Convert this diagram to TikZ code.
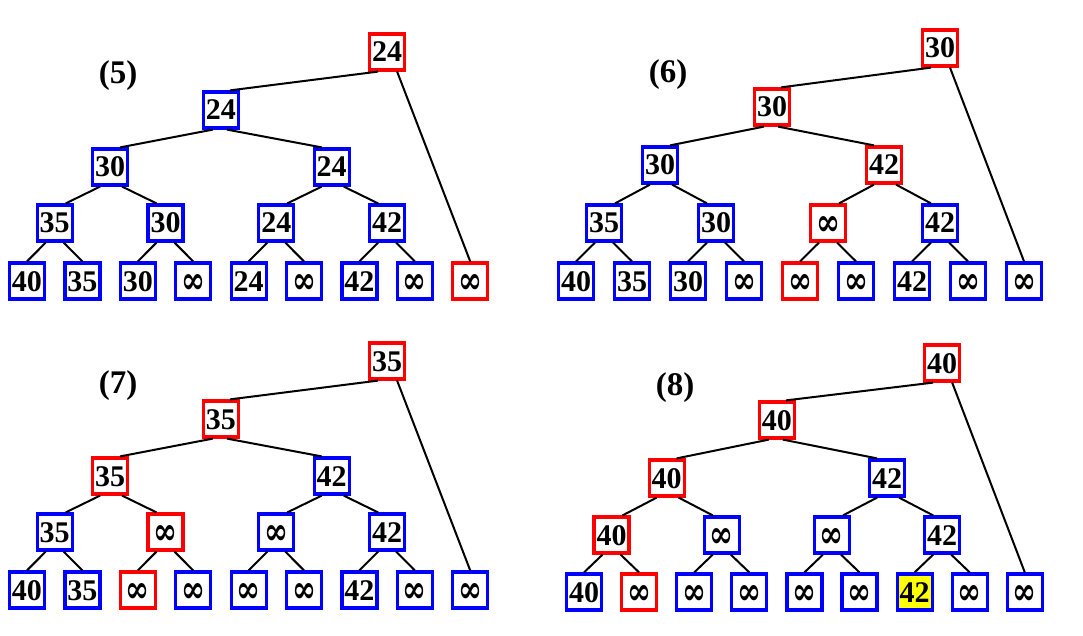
\documentclass[tikz,border=0pt]{standalone}
\usepackage{fontspec}
\setmainfont{Liberation Serif}
\newfontfamily\inffont{DejaVu Serif}
\definecolor{bl}{RGB}{0,0,255}
\definecolor{rd}{RGB}{255,0,0}
\definecolor{yl}{RGB}{255,255,0}
\newcommand\infsym{\raisebox{-2.2pt}{\resizebox{24pt}{19pt}{\inffont\bfseries ∞}}}
\tikzset{
  box/.style={draw, line width=3.2pt, minimum width=35pt, minimum height=36pt, inner sep=0pt,
    font=\fontsize{30}{30}\selectfont\bfseries, text height=20pt, text depth=0pt, fill=white},
  bb/.style={box, draw=bl},
  rb/.style={box, draw=rd},
  yb/.style={box, draw=bl, fill=yl},
  edge/.style={draw=black, line width=2pt},
  lbl/.style={font=\fontsize{33}{33}\selectfont\bfseries, inner sep=0pt}
}
\newcommand\treeedges[1]{%
  \draw[edge] ([xshift=-9pt]#1r.south) -- ([xshift=9pt]#1m.north);
  \draw[edge] ([xshift=10pt]#1r.south) -- (#1l8.north);
  \draw[edge] ([xshift=-8pt]#1m.south) -- ([xshift=10pt]#1p.north);
  \draw[edge] ([xshift=6pt]#1m.south) -- ([xshift=-10pt]#1q.north);
  \draw[edge] ([xshift=-10pt]#1p.south) -- ([xshift=11pt]#1a.north);
  \draw[edge] ([xshift=12pt]#1p.south) -- ([xshift=-9pt]#1b.north);
  \draw[edge] ([xshift=-10pt]#1q.south) -- ([xshift=11pt]#1c.north);
  \draw[edge] ([xshift=12pt]#1q.south) -- ([xshift=-9pt]#1d.north);
  \draw[edge] ([xshift=-9pt]#1a.south) -- (#1l0.north);
  \draw[edge] ([xshift=9pt]#1a.south) -- (#1l1.north);
  \draw[edge] ([xshift=-9pt]#1b.south) -- (#1l2.north);
  \draw[edge] ([xshift=9pt]#1b.south) -- (#1l3.north);
  \draw[edge] ([xshift=-9pt]#1c.south) -- (#1l4.north);
  \draw[edge] ([xshift=9pt]#1c.south) -- (#1l5.north);
  \draw[edge] ([xshift=-9pt]#1d.south) -- (#1l6.north);
  \draw[edge] ([xshift=9pt]#1d.south) -- (#1l7.north);
}
\begin{document}
\begin{tikzpicture}[x=1pt,y=-1pt]
\useasboundingbox (0,0) rectangle (1083,636);

% ---------- Panel (5) ----------
\def\s{55.4}\def\yR{52}\def\yA{110}\def\yB{167}\def\yC{223}\def\yL{281}
\node[lbl] (Alab) at (118,76) {(5)};
\begin{scope}[shift={(27,0)}]
\node[rb] (Ar) at ({6.5*\s},\yR) {24};
\node[bb] (Am) at ({3.5*\s},\yA) {24};
\node[bb] (Ap) at ({1.5*\s},\yB) {30};
\node[bb] (Aq) at ({5.5*\s},\yB) {24};
\node[bb] (Aa) at ({0.5*\s},\yC) {35};
\node[bb] (Ab) at ({2.5*\s},\yC) {30};
\node[bb] (Ac) at ({4.5*\s},\yC) {24};
\node[bb] (Ad) at ({6.5*\s},\yC) {42};
\node[bb] (Al0) at ({0*\s},\yL) {40};
\node[bb] (Al1) at ({1*\s},\yL) {35};
\node[bb] (Al2) at ({2*\s},\yL) {30};
\node[bb] (Al3) at ({3*\s},\yL) {\infsym};
\node[bb] (Al4) at ({4*\s},\yL) {24};
\node[bb] (Al5) at ({5*\s},\yL) {\infsym};
\node[bb] (Al6) at ({6*\s},\yL) {42};
\node[bb] (Al7) at ({7*\s},\yL) {\infsym};
\node[rb] (Al8) at ({8*\s},\yL) {\infsym};
\end{scope}
\treeedges{A}

% ---------- Panel (6) ----------
\def\s{56}\def\yR{48}\def\yA{107}\def\yB{165}\def\yC{223}\def\yL{281}
\node[lbl] (Blab) at (668,75) {(6)};
\begin{scope}[shift={(576,0)}]
\node[rb] (Br) at ({6.5*\s},\yR) {30};
\node[rb] (Bm) at ({3.5*\s},\yA) {30};
\node[bb] (Bp) at ({1.5*\s},\yB) {30};
\node[rb] (Bq) at ({5.5*\s},\yB) {42};
\node[bb] (Ba) at ({0.5*\s},\yC) {35};
\node[bb] (Bb) at ({2.5*\s},\yC) {30};
\node[rb] (Bc) at ({4.5*\s},\yC) {\infsym};
\node[bb] (Bd) at ({6.5*\s},\yC) {42};
\node[bb] (Bl0) at ({0*\s},\yL) {40};
\node[bb] (Bl1) at ({1*\s},\yL) {35};
\node[bb] (Bl2) at ({2*\s},\yL) {30};
\node[bb] (Bl3) at ({3*\s},\yL) {\infsym};
\node[rb] (Bl4) at ({4*\s},\yL) {\infsym};
\node[bb] (Bl5) at ({5*\s},\yL) {\infsym};
\node[bb] (Bl6) at ({6*\s},\yL) {42};
\node[bb] (Bl7) at ({7*\s},\yL) {\infsym};
\node[bb] (Bl8) at ({8*\s},\yL) {\infsym};
\end{scope}
\treeedges{B}

% ---------- Panel (7) ----------
\def\s{55.4}\def\yR{361}\def\yA{419}\def\yB{476}\def\yC{532}\def\yL{590}
\node[lbl] (Clab) at (118,386) {(7)};
\begin{scope}[shift={(27,0)}]
\node[rb] (Cr) at ({6.5*\s},\yR) {35};
\node[rb] (Cm) at ({3.5*\s},\yA) {35};
\node[rb] (Cp) at ({1.5*\s},\yB) {35};
\node[bb] (Cq) at ({5.5*\s},\yB) {42};
\node[bb] (Ca) at ({0.5*\s},\yC) {35};
\node[rb] (Cb) at ({2.5*\s},\yC) {\infsym};
\node[bb] (Cc) at ({4.5*\s},\yC) {\infsym};
\node[bb] (Cd) at ({6.5*\s},\yC) {42};
\node[bb] (Cl0) at ({0*\s},\yL) {40};
\node[bb] (Cl1) at ({1*\s},\yL) {35};
\node[rb] (Cl2) at ({2*\s},\yL) {\infsym};
\node[bb] (Cl3) at ({3*\s},\yL) {\infsym};
\node[bb] (Cl4) at ({4*\s},\yL) {\infsym};
\node[bb] (Cl5) at ({5*\s},\yL) {\infsym};
\node[bb] (Cl6) at ({6*\s},\yL) {42};
\node[bb] (Cl7) at ({7*\s},\yL) {\infsym};
\node[bb] (Cl8) at ({8*\s},\yL) {\infsym};
\end{scope}
\treeedges{C}

% ---------- Panel (8) ----------
\def\s{55.1}\def\yR{363}\def\yA{420}\def\yB{478}\def\yC{535}\def\yL{592}
\node[lbl] (Dlab) at (675,388) {(8)};
\begin{scope}[shift={(584,0)}]
\node[rb] (Dr) at ({6.5*\s},\yR) {40};
\node[rb] (Dm) at ({3.5*\s},\yA) {40};
\node[rb] (Dp) at ({1.5*\s},\yB) {40};
\node[bb] (Dq) at ({5.5*\s},\yB) {42};
\node[rb] (Da) at ({0.5*\s},\yC) {40};
\node[bb] (Db) at ({2.5*\s},\yC) {\infsym};
\node[bb] (Dc) at ({4.5*\s},\yC) {\infsym};
\node[bb] (Dd) at ({6.5*\s},\yC) {42};
\node[bb] (Dl0) at ({0*\s},\yL) {40};
\node[rb] (Dl1) at ({1*\s},\yL) {\infsym};
\node[bb] (Dl2) at ({2*\s},\yL) {\infsym};
\node[bb] (Dl3) at ({3*\s},\yL) {\infsym};
\node[bb] (Dl4) at ({4*\s},\yL) {\infsym};
\node[bb] (Dl5) at ({5*\s},\yL) {\infsym};
\node[yb] (Dl6) at ({6*\s},\yL) {42};
\node[bb] (Dl7) at ({7*\s},\yL) {\infsym};
\node[bb] (Dl8) at ({8*\s},\yL) {\infsym};
\end{scope}
\treeedges{D}
\end{tikzpicture}
\end{document}
